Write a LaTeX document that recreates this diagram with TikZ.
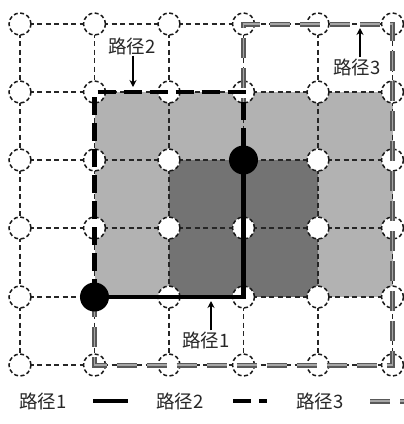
\documentclass[tikz,border=0pt]{standalone}
\usepackage{fontspec}
\newfontfamily\cjk{Noto Sans CJK SC}
\usetikzlibrary{arrows.meta,backgrounds,calc}

\begin{document}
\begin{tikzpicture}[
    x=1pt, y=-1pt,
    cell/.style={circle, draw=black!90, dash pattern=on 4pt off 2.5pt, fill=white, line width=1.5pt, minimum size=22pt, inner sep=0pt},
    hub/.style={circle, fill=black, minimum size=29pt, inner sep=0pt},
    link/.style={draw=black!85, line width=1.3pt, dash pattern=on 5pt off 3.5pt},
    route1/.style={line width=4.5pt},
    route2/.style={line width=4.5pt, dash pattern=on 18pt off 8pt},
    route3/.style={draw=black!65, double=black!35, double distance=1.4pt, line width=1.8pt, dash pattern=on 20pt off 10pt},
    tag/.style={font=\cjk\fontsize{18.5}{18.5}\selectfont, text=black!85, inner sep=1pt},
    pointer/.style={-{Stealth[length=7pt,width=7pt]}, line width=2.2pt}
]
    \useasboundingbox (0,0) rectangle (404,424);

    % grid of cells
    \foreach \x [count=\c from 0] in {20,94.5,169,243.5,318,392.5}
        \foreach \y [count=\r from 0] in {24,92,160,228,297,365}
            \node[cell] (n-\c-\r) at (\x,\y) {};

    \begin{scope}[on background layer]
        \fill[black!30] (n-1-1.center) rectangle (n-5-4.center);
        \fill[black!55] (n-2-2.center) rectangle (n-4-4.center);
        \foreach \a in {0,...,4} {
            \pgfmathtruncatemacro{\b}{\a+1}
            \foreach \k in {0,...,5} {
                \draw[link] (n-\a-\k.center) -- (n-\b-\k.center);
                \draw[link] (n-\k-\a.center) -- (n-\k-\b.center);
            }
        }
    \end{scope}

    % routes
    \draw[route3] (n-1-4.center) -- (n-1-5.center) -- (n-5-5.center) -- (n-5-0.center) -- (n-3-0.center) -- (n-3-2.center);
    \draw[route2] (n-1-4.center) -- (n-1-1.center) -- (n-3-1.center) -- (n-3-2.center);
    \draw[route1] (n-1-4.center) -- (n-3-4.center) -- (n-3-2.center);

    \node[hub] (start) at (n-1-4) {};
    \node[hub] (goal) at (n-3-2) {};

    % labels
    \node[tag] (tag1) at (206,340) {路径1};
    \coordinate (tip1) at (211,301);
    \draw[pointer] (tag1.north -| tip1) -- (tip1);

    \node[tag] (tag2) at (132,46) {路径2};
    \coordinate (tip2) at (133,87);
    \draw[pointer] (tag2.south -| tip2) -- (tip2);

    \node[tag] (tag3) at (357,67) {路径3};
    \coordinate (tip3) at (360,28);
    \draw[pointer] (tag3.north -| tip3) -- (tip3);

    % legend
    \node[tag] (key1) at (43,401) {路径1};
    \node[tag] (key2) at (180,401) {路径2};
    \node[tag] (key3) at (320,401) {路径3};
    \coordinate (k1a) at (93,401);
    \coordinate (k1b) at (128,401);
    \coordinate (k2a) at (233,401);
    \coordinate (k2b) at (267,401);
    \coordinate (k3a) at (370,401);
    \coordinate (k3b) at (404,401);
    \draw[route1] (k1a) -- (k1b);
    \draw[route2] (k2a) -- (k2b);
    \draw[route3] (k3a) -- (k3b);
\end{tikzpicture}
\end{document}
